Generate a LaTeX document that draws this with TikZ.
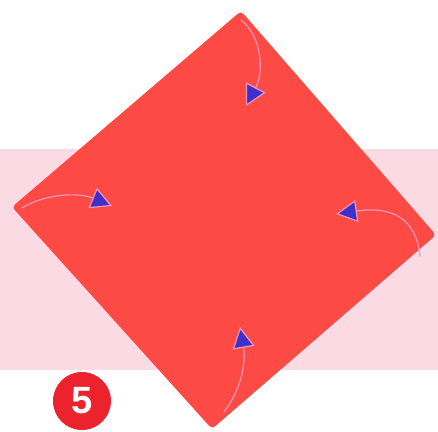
\documentclass[tikz,border=0pt]{standalone}
\usepackage{fontspec}
\setmainfont{Liberation Sans}
\usetikzlibrary{arrows.meta}
\definecolor{paperred}{RGB}{253,74,68}
\definecolor{bandpink}{RGB}{252,218,228}
\definecolor{foldline}{RGB}{242,150,190}
\definecolor{tipblue}{RGB}{62,48,200}
\definecolor{badgered}{RGB}{236,34,44}
\begin{document}
\begin{tikzpicture}[
    x=1pt,
    y=-1pt,
    line cap=round,
    line join=round,
    band/.style={
        fill=bandpink
    },
    paper/.style={
        fill=paperred,
        rounded corners=4pt
    },
    foldarrow/.style={
        draw=foldline,
        line width=1.2pt,
        -{Triangle[length=21pt,width=22pt,fill=tipblue]}
    },
    stepnum/.style={
        circle,
        fill=badgered,
        minimum size=58pt,
        inner sep=0pt,
        text=white,
        font=\bfseries\fontsize{38}{38}\selectfont
    }
]

% =================================================
% Рамка и полоса фона
% =================================================

\useasboundingbox (0,0) rectangle (438,431);
\clip (0,0) rectangle (438,431);

\fill[band] (0,149) rectangle (438,370);

% =================================================
% Вершины квадрата
% =================================================

\coordinate (T) at (241,11);
\coordinate (R) at (436,235);
\coordinate (B) at (212,429);
\coordinate (L) at (12,207);

\fill[paper] (T)--(R)--(B)--(L)--cycle;

% =================================================
% Стрелки сгиба
% =================================================

\coordinate (T0) at (241,20);
\coordinate (T1) at (246,106);
\coordinate (L0) at (22,208);
\coordinate (L1) at (112,206);
\coordinate (R0) at (420,256);
\coordinate (R1) at (336,214);
\coordinate (B0) at (224,412);
\coordinate (B1) at (240,327);

\draw[foldarrow] (T0) .. controls (262,36) and (264,72) .. (T1);
\draw[foldarrow] (L0) .. controls (44,194) and (78,192) .. (L1);
\draw[foldarrow] (R0) .. controls (416,218) and (392,206) .. (R1);
\draw[foldarrow] (B0) .. controls (242,388) and (246,362) .. (B1);

% =================================================
% Номер шага
% =================================================

\node[stepnum] (num) at (82,401) {5};

\end{tikzpicture}
\end{document}
